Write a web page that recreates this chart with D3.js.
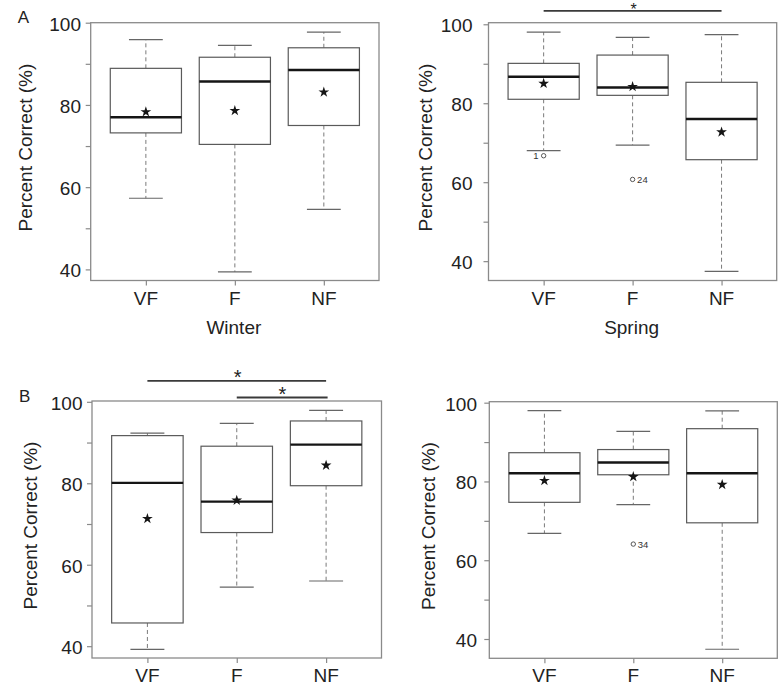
<!DOCTYPE html>
<html><head><meta charset="utf-8">
<script src="https://cdn.jsdelivr.net/npm/d3@7"></script>
<style>
html,body{margin:0;padding:0;background:#fff;}
svg{display:block;font-family:"Liberation Sans",Arial,Helvetica,sans-serif;}
</style></head>
<body>
<svg id="chart" width="783" height="684"></svg>
<script>
// ---------------- data ----------------
const categories = ["VF", "F", "NF"];
const yTicks = [40, 50, 60, 70, 80, 90, 100];
const yTickLabels = [40, 60, 80, 100];

// Panel A, Winter
const winterLow  = [57.3, 39.4, 54.6];
const winterQ1   = [73.2, 70.4, 75.0];
const winterMed  = [77.0, 85.7, 88.5];
const winterQ3   = [88.9, 91.6, 93.9];
const winterHigh = [95.9, 94.5, 97.7];
const winterMean = [78.5, 78.8, 83.3];
const winterOutliers = [];

// Panel A, Spring
const springLow  = [68.0, 69.4, 37.4];
const springQ1   = [81.0, 82.0, 65.7];
const springMed  = [86.7, 84.0, 76.0];
const springQ3   = [90.1, 92.2, 85.3];
const springHigh = [98.0, 96.7, 97.4];
const springMean = [85.2, 84.4, 72.9];
const springOutliers = [{cat: "VF", value: 66.7, label: "1"}, {cat: "F", value: 60.7, label: "24"}];

// Panel B, left
const bLeftLow  = [39.2, 54.5, 56.0];
const bLeftQ1   = [45.7, 67.9, 79.4];
const bLeftMed  = [80.1, 75.5, 89.5];
const bLeftQ3   = [91.7, 89.1, 95.3];
const bLeftHigh = [92.3, 94.7, 97.9];
const bLeftMean = [71.5, 76.0, 84.6];
const bLeftOutliers = [];

// Panel B, right
const bRightLow  = [66.8, 74.1, 37.4];
const bRightQ1   = [74.7, 81.7, 69.5];
const bRightMed  = [82.1, 84.8, 82.1];
const bRightQ3   = [87.3, 88.1, 93.4];
const bRightHigh = [98.0, 92.7, 97.9];
const bRightMean = [80.4, 81.4, 79.4];
const bRightOutliers = [{cat: "F", value: 64.1, label: "34"}];

// significance brackets
const springSig = [{from: "VF", to: "NF", row: 1, mark: "*"}];
const bLeftSig  = [{from: "VF", to: "NF", row: 2, mark: "*"}, {from: "F", to: "NF", row: 0, mark: "*"}];

const yTitle = "Percent Correct (%)";

// ---------------- layout ----------------
const panels = [
  {low: winterLow, q1: winterQ1, med: winterMed, q3: winterQ3, high: winterHigh, mean: winterMean, out: winterOutliers, sig: [],
   x0: 90.7, x1: 379, y0: 22.7, y1: 280.5, dom: [37.3, 100.0], labelRight: 81, titleX: 25, xTitle: "Winter", letter: "A"},
  {low: springLow, q1: springQ1, med: springMed, q3: springQ3, high: springHigh, mean: springMean, out: springOutliers, sig: springSig,
   x0: 488.5, x1: 776.7, y0: 22.7, y1: 280.5, dom: [35.1, 100.4], labelRight: 472.5, titleX: 425, xTitle: "Spring", letter: ""},
  {low: bLeftLow, q1: bLeftQ1, med: bLeftMed, q3: bLeftQ3, high: bLeftHigh, mean: bLeftMean, out: bLeftOutliers, sig: bLeftSig,
   x0: 92, x1: 381.5, y0: 401, y1: 658, dom: [37.1, 100.2], labelRight: 82.5, titleX: 30, xTitle: "", letter: "B"},
  {low: bRightLow, q1: bRightQ1, med: bRightMed, q3: bRightQ3, high: bRightHigh, mean: bRightMean, out: bRightOutliers, sig: [],
   x0: 489.3, x1: 777.3, y0: 401.7, y1: 658.3, dom: [35.1, 100.25], labelRight: 477, titleX: 428, xTitle: "", letter: ""}
];

const svg = d3.select("#chart");
const TXT = "#222";

panels.forEach(p => {
  const x = d3.scalePoint().domain(categories).range([p.x0, p.x1]).padding(0.62);
  const y = d3.scaleLinear().domain(p.dom).range([p.y1, p.y0]);
  const step = x.step();
  const bw = step * 0.8, cw = step * 0.38;
  const g = svg.append("g");

  // frame
  g.append("rect").attr("x", p.x0).attr("y", p.y0).attr("width", p.x1 - p.x0).attr("height", p.y1 - p.y0)
    .attr("fill", "none").attr("stroke", "#8a8a8a").attr("stroke-width", 1.3);

  // y axis
  const yAxis = d3.axisLeft(y).tickValues(yTicks).tickSize(5).tickPadding(0)
    .tickFormat(d => "");
  const ya = g.append("g").attr("transform", `translate(${p.x0},0)`).call(yAxis);
  ya.select(".domain").remove();
  ya.selectAll(".tick line").attr("stroke", "#8a8a8a").attr("stroke-width", 1.2);
  g.selectAll(".ylab").data(yTickLabels).join("text")
    .attr("x", p.labelRight).attr("y", d => y(d) + 1.5)
    .attr("text-anchor", "end").attr("dominant-baseline", "central")
    .attr("font-size", 19).attr("fill", TXT).text(d => d);

  // x axis
  const xAxis = d3.axisBottom(x).tickSize(5).tickPadding(0).tickFormat(d => "");
  const xa = g.append("g").attr("transform", `translate(0,${p.y1})`).call(xAxis);
  xa.select(".domain").remove();
  xa.selectAll(".tick line").attr("stroke", "#8a8a8a").attr("stroke-width", 1.2);
  g.selectAll(".xlab").data(categories).join("text")
    .attr("x", d => x(d)).attr("y", Math.min(p.y1 + 24.5, 681.5))
    .attr("text-anchor", "middle").attr("font-size", 19).attr("fill", TXT).text(d => d);

  // titles
  g.append("text").attr("transform", `translate(${p.titleX},${(p.y0 + p.y1) / 2 - 4}) rotate(-90)`)
    .attr("text-anchor", "middle").attr("dominant-baseline", "central")
    .attr("font-size", 19).attr("fill", TXT).text(yTitle);
  if (p.xTitle) {
    g.append("text").attr("x", (p.x0 + p.x1) / 2 - 1).attr("y", p.y1 + 53.5)
      .attr("text-anchor", "middle").attr("font-size", 19).attr("fill", TXT).text(p.xTitle);
  }
  if (p.letter) {
    g.append("text").attr("x", p.x0 - 73).attr("y", p.y0 + 0.5)
      .attr("font-size", 17).attr("fill", TXT).text(p.letter);
  }

  const rows = categories.map((c, i) => ({c, low: p.low[i], q1: p.q1[i], med: p.med[i], q3: p.q3[i], high: p.high[i], mean: p.mean[i]}));

  // whiskers (dashed)
  g.selectAll(".wu").data(rows).join("line")
    .attr("x1", d => x(d.c)).attr("x2", d => x(d.c))
    .attr("y1", d => y(d.q3)).attr("y2", d => y(d.high))
    .attr("stroke", "#7a7a7a").attr("stroke-width", 1).attr("stroke-dasharray", "4,3");
  g.selectAll(".wl").data(rows).join("line")
    .attr("x1", d => x(d.c)).attr("x2", d => x(d.c))
    .attr("y1", d => y(d.q1)).attr("y2", d => y(d.low))
    .attr("stroke", "#7a7a7a").attr("stroke-width", 1).attr("stroke-dasharray", "4,3");
  // caps
  ["high", "low"].forEach(k => {
    g.selectAll(".cap" + k).data(rows).join("line")
      .attr("x1", d => x(d.c) - cw / 2).attr("x2", d => x(d.c) + cw / 2)
      .attr("y1", d => y(d[k])).attr("y2", d => y(d[k]))
      .attr("stroke", "#666").attr("stroke-width", 1.2);
  });
  // boxes
  g.selectAll(".box").data(rows).join("rect")
    .attr("x", d => x(d.c) - bw / 2).attr("width", bw)
    .attr("y", d => y(d.q3)).attr("height", d => y(d.q1) - y(d.q3))
    .attr("fill", "#fff").attr("stroke", "#5a5a5a").attr("stroke-width", 1.2);
  // medians
  g.selectAll(".med").data(rows).join("line")
    .attr("x1", d => x(d.c) - bw / 2).attr("x2", d => x(d.c) + bw / 2)
    .attr("y1", d => y(d.med)).attr("y2", d => y(d.med))
    .attr("stroke", "#151515").attr("stroke-width", 2.4);
  // means (stars)
  const star = d3.symbol().type(d3.symbolStar).size(36);
  g.selectAll(".mean").data(rows).join("path")
    .attr("transform", d => `translate(${x(d.c)},${y(d.mean) + 0.8})`)
    .attr("d", star).attr("fill", "#151515");
  // outliers
  g.selectAll(".out").data(p.out).join("circle")
    .attr("cx", d => x(d.cat)).attr("cy", d => y(d.value)).attr("r", 2.2)
    .attr("fill", "none").attr("stroke", "#444").attr("stroke-width", 0.9);
  g.selectAll(".outlab").data(p.out).join("text")
    .attr("x", d => d.label === "1" ? x(d.cat) - 5 : x(d.cat) + 4.5)
    .attr("y", d => y(d.value)).attr("dominant-baseline", "central")
    .attr("text-anchor", d => d.label === "1" ? "end" : "start")
    .attr("font-size", 9.5).attr("fill", "#333").text(d => d.label);
  // significance brackets
  p.sig.forEach(s => {
    const yy = p.y0 - 3.5 - s.row * 8.3;
    const nearTop = yy + 3 < 18;
    g.append("line").attr("x1", x(s.from)).attr("x2", x(s.to) + (s.row === 0 ? 1.5 : 0))
      .attr("y1", yy).attr("y2", yy).attr("stroke", "#3a3a3a").attr("stroke-width", 1.8);
    g.append("text").attr("x", (x(s.from) + x(s.to)) / 2 + 1).attr("y", nearTop ? 15 : yy + 3)
      .attr("text-anchor", "middle").attr("font-size", nearTop ? 16 : 20).attr("fill", TXT).text(s.mark);
  });
});
</script>
</body></html>
